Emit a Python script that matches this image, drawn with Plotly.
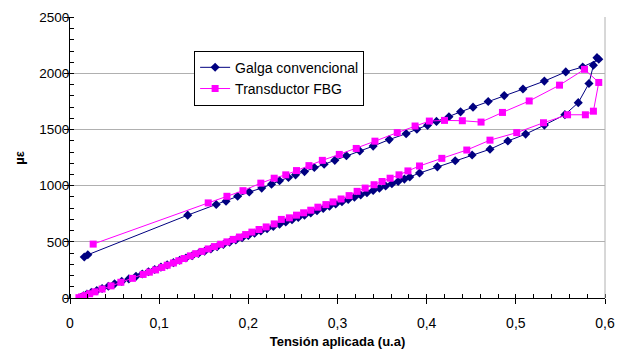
import plotly.graph_objects as go

# ---- data ----
galga_x = [0.012, 0.015, 0.019, 0.024, 0.030, 0.036, 0.043, 0.050, 0.058, 0.066,
           0.074, 0.081, 0.088, 0.095, 0.102, 0.109, 0.116, 0.123, 0.130, 0.137,
           0.144, 0.151, 0.158, 0.165, 0.172, 0.179, 0.186, 0.193, 0.200, 0.207,
           0.214, 0.221, 0.228, 0.235, 0.242, 0.249, 0.256, 0.263, 0.270, 0.277,
           0.284, 0.291, 0.298, 0.305, 0.312, 0.319, 0.326, 0.333, 0.340, 0.347,
           0.354, 0.361, 0.368, 0.375, 0.381, 0.392, 0.412, 0.432, 0.451, 0.471,
           0.491, 0.511, 0.532, 0.555, 0.570, 0.582, 0.587, 0.591, 0.593,
           0.575, 0.556, 0.532, 0.508, 0.487, 0.469, 0.452, 0.438, 0.425, 0.411,
           0.401, 0.389, 0.377, 0.358, 0.340, 0.325, 0.310, 0.297, 0.285, 0.274,
           0.263, 0.253, 0.245, 0.235, 0.226, 0.215, 0.201, 0.188, 0.175, 0.164,
           0.132, 0.020, 0.016]
galga_y = [5, 20, 35, 50, 66, 84, 105, 126, 148, 170,
           193, 214, 234, 254, 275, 295, 315, 336, 356, 376,
           396, 416, 436, 456, 476, 496, 517, 537, 557, 577,
           597, 617, 637, 657, 677, 697, 717, 737, 757, 777,
           797, 818, 838, 858, 878, 898, 918, 938, 958, 978,
           998, 1018, 1038, 1059, 1078, 1113, 1168, 1222, 1274, 1325,
           1398, 1460, 1540, 1633, 1740, 1911, 2073, 2141, 2126,
           2058, 2014, 1932, 1861, 1803, 1750, 1700, 1658, 1615, 1573,
           1538, 1503, 1464, 1411, 1353, 1309, 1267, 1226, 1191, 1162,
           1126, 1097, 1073, 1044, 1014, 979, 944, 906, 862, 833,
           738, 385, 365]

fbg_x = [0.010, 0.013, 0.017, 0.022, 0.028, 0.036, 0.046, 0.057, 0.070, 0.082,
         0.089, 0.096, 0.103, 0.109, 0.116, 0.122, 0.128, 0.135, 0.141, 0.148,
         0.155, 0.162, 0.169, 0.176, 0.183, 0.190, 0.197, 0.204, 0.212, 0.220,
         0.229, 0.237, 0.246, 0.254, 0.262, 0.270, 0.278, 0.287, 0.295, 0.304,
         0.313, 0.322, 0.331, 0.341, 0.350, 0.359, 0.369, 0.379, 0.392, 0.417,
         0.445, 0.471, 0.501, 0.531, 0.558, 0.578, 0.587, 0.593,
         0.577, 0.549, 0.515, 0.485, 0.461, 0.440, 0.420, 0.403, 0.387, 0.367,
         0.342, 0.321, 0.302, 0.283, 0.268, 0.254, 0.242, 0.229, 0.214, 0.194,
         0.176, 0.155, 0.026]
fbg_y = [3, 10, 22, 38, 55, 80, 108, 140, 175, 210,
         230, 250, 272, 292, 312, 332, 352, 375, 395, 415,
         437, 458, 479, 500, 522, 543, 565, 587, 610, 633,
         660, 700, 714, 738, 759, 782, 809, 832, 856, 882,
         912, 950, 979, 1009, 1038, 1067, 1097, 1132, 1176, 1244,
         1318, 1406, 1473, 1561, 1632, 1632, 1664, 1920,
         2037, 1896, 1755, 1653, 1567, 1579, 1582, 1576, 1532, 1473,
         1397, 1332, 1279, 1226, 1179, 1135, 1097, 1067, 1023, 956,
         906, 847, 480]

series_names = ["Galga convencional", "Transductor FBG"]
x_tick_vals = [0, 0.1, 0.2, 0.3, 0.4, 0.5, 0.6]
x_tick_text = ["0", "0,1", "0,2", "0,3", "0,4", "0,5", "0,6"]
y_tick_vals = [0, 500, 1000, 1500, 2000, 2500]
x_title = "Tensión aplicada (u.a)"
y_title = "µε"

FONT = "Liberation Sans, Arial, sans-serif"

fig = go.Figure()
fig.add_trace(go.Scatter(
    x=galga_x, y=galga_y, name=series_names[0], mode="lines+markers",
    line=dict(color="#000080", width=1),
    marker=dict(symbol="diamond", size=7, color="#000080"),
))
fig.add_trace(go.Scatter(
    x=fbg_x, y=fbg_y, name=series_names[1], mode="lines+markers",
    line=dict(color="#FF00FF", width=1),
    marker=dict(symbol="square", size=7, color="#FF00FF"),
))

fig.update_layout(
    width=622, height=341,
    margin=dict(l=62, r=25, t=9, b=51),
    paper_bgcolor="white", plot_bgcolor="white",
    font=dict(family=FONT, size=14, color="black"),
    showlegend=True,
    legend=dict(
        x=0.232, y=0.88, xanchor="left", yanchor="top",
        bgcolor="white", bordercolor="black", borderwidth=1,
        font=dict(family=FONT, size=14, color="black"),
        tracegroupgap=0, itemwidth=30,
    ),
    shapes=[dict(type="line", xref="paper", yref="paper", x0=1, x1=1, y0=0, y1=1,
                 line=dict(color="#B0B0B0", width=1))],
    annotations=[dict(text="<b>" + y_title + "</b>", xref="paper", yref="paper",
                      x=-0.095, y=0.5, xanchor="center", yanchor="middle",
                      textangle=-90, showarrow=False, font=dict(size=13))],
)

fig.update_xaxes(
    range=[0, 0.6], tickvals=x_tick_vals, ticktext=x_tick_text,
    automargin=False,
    showgrid=False, zeroline=False,
    showline=True, linecolor="black", linewidth=1,
    ticks="outside", ticklen=5, tickcolor="black",
    minor=dict(dtick=0.02, ticks="inside", ticklen=4, tickcolor="black", showgrid=False),
    tickfont=dict(size=14), ticklabelstandoff=7,
    title=dict(text="<b>" + x_title + "</b>", font=dict(size=13), standoff=7),
)
fig.update_yaxes(
    range=[0, 2503], tickvals=y_tick_vals,
    automargin=False,
    showgrid=True, gridcolor="#B0B0B0", gridwidth=1, zeroline=False,
    showline=True, linecolor="black", linewidth=1,
    ticks="outside", ticklen=5, tickcolor="black",
    minor=dict(dtick=100, ticks="inside", ticklen=4, tickcolor="black", showgrid=False),
    tickfont=dict(size=13.5), ticklabelstandoff=-8, ticklabeloverflow="allow",
)

fig.write_html("out.html")
